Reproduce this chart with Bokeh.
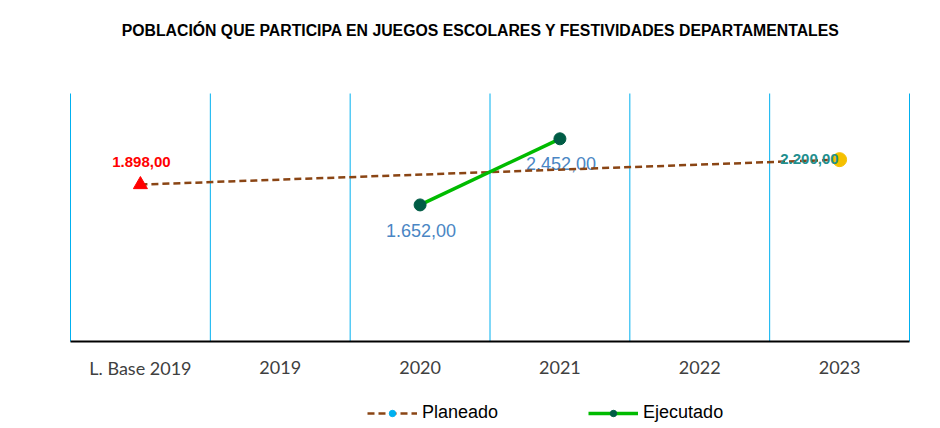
from bokeh.plotting import figure
from bokeh.models import Range1d, Legend, LegendItem
from bokeh.core.properties import value
from bokeh.embed import file_html
from bokeh.resources import INLINE

categories = ["L. Base 2019", "2019", "2020", "2021", "2022", "2023"]
plan_cats = ["L. Base 2019", "2023"]
plan_vals = [1898.0, 2200.0]
exec_cats = ["2020", "2021"]
exec_vals = [1652.0, 2452.0]
y_max = 3000.0
title_text = "POBLACIÓN QUE PARTICIPA  EN JUEGOS ESCOLARES Y FESTIVIDADES DEPARTAMENTALES"

# layout (pixels inside the figure)
W, H = 936, 426
PL, PR, PT, PB = 70, 909, 93, 341  # plot-area edges

n = len(categories)
ux = (PR - PL) / n
uy = (PB - PT) / y_max
x_start = -PL / ux
x_end = n + (W - PR) / ux
y_end = y_max + PT / uy
y_start = -(H - PB) / uy


def fmt(v):
    s = f"{v:,.2f}"
    return s.replace(",", "X").replace(".", ",").replace("X", ".")


def xpos(c):
    return categories.index(c) + 0.5


px = [xpos(c) for c in plan_cats]
ex = [xpos(c) for c in exec_cats]
centers = [i + 0.5 for i in range(n)]
bounds = list(range(n + 1))
nan = float("nan")

p = figure(width=W, height=H, output_backend="svg", toolbar_location=None,
           x_range=Range1d(x_start, x_end), y_range=Range1d(y_start, y_end),
           x_axis_location=None, y_axis_location=None, min_border=0)
p.background_fill_color = "white"
p.border_fill_color = "white"
p.outline_line_color = None
p.grid.visible = False

# title
p.text([n / 2], [y_end], text=[title_text], x_offset=-7, y_offset=30,
       text_font=value("Liberation Sans"), text_font_size="15.8px", text_font_style="bold",
       text_color="black", text_align="center", text_baseline="middle")

# vertical category separators
p.segment(x0=bounds, y0=[0] * len(bounds), x1=bounds, y1=[y_max] * len(bounds),
          line_color="#00b0f0", line_width=1)
# axis line
p.segment(x0=[0], y0=[0], x1=[n], y1=[0], line_color="black", line_width=2)
# category labels
p.text(centers, [0] * n, text=categories, y_offset=26,
       text_font=value("Lato"), text_font_size="18px", text_color="#404040",
       text_align="center", text_baseline="middle")

# executed labels (under the lines)
p.text([ex[0]], [exec_vals[0]], text=[fmt(exec_vals[0])], x_offset=1, y_offset=26,
       text_font=value("Liberation Sans"), text_font_size="18px",
       text_color="#4a86c4", text_align="center", text_baseline="middle")
p.text([ex[1]], [exec_vals[1]], text=[fmt(exec_vals[1])], x_offset=1, y_offset=25,
       text_font=value("Liberation Sans"), text_font_size="18px",
       text_color="#4a86c4", text_align="center", text_baseline="middle")

plan_line = p.line(px, plan_vals, line_color="#8a4514", line_width=2.5, line_dash="7 4")
p.scatter([px[0]], [plan_vals[0]], marker="triangle", size=14, color="#ff0000")
p.scatter([px[1]], [plan_vals[1]], marker="circle", size=14, color="#f5c000")
plan_leg = p.scatter(x=[nan], y=[nan], marker="circle", size=10, color="#00b0f0")

exec_line = p.line(ex, exec_vals, line_color="#00bb00", line_width=3.5)
exec_pts = p.scatter(ex, exec_vals, marker="circle", size=12, color="#005c45")

# planned labels
p.text([px[0]], [plan_vals[0]], text=[fmt(plan_vals[0])], x_offset=1, y_offset=-23,
       text_font=value("Liberation Sans"), text_font_size="15px", text_font_style="bold",
       text_color="#ff0000", text_align="center", text_baseline="middle")
p.text([px[1]], [plan_vals[1]], text=[fmt(plan_vals[1])], x_offset=-1, y_offset=-1,
       text_font=value("Liberation Sans"), text_font_size="15px", text_font_style="bold",
       text_color="#1f8f8f", text_align="right", text_baseline="middle")

legend = Legend(items=[LegendItem(label="Planeado", renderers=[plan_line, plan_leg]),
                       LegendItem(label="Ejecutado", renderers=[exec_line, exec_pts])],
                orientation="horizontal", location=(367, 3), spacing=90,
                glyph_width=50, glyph_height=16, label_standoff=5,
                label_text_font="Liberation Sans", label_text_font_size="18px",
                label_text_color="black", border_line_color=None,
                background_fill_alpha=0, margin=0, padding=2)
p.add_layout(legend)

open("out.html", "w").write(file_html(p, INLINE))
